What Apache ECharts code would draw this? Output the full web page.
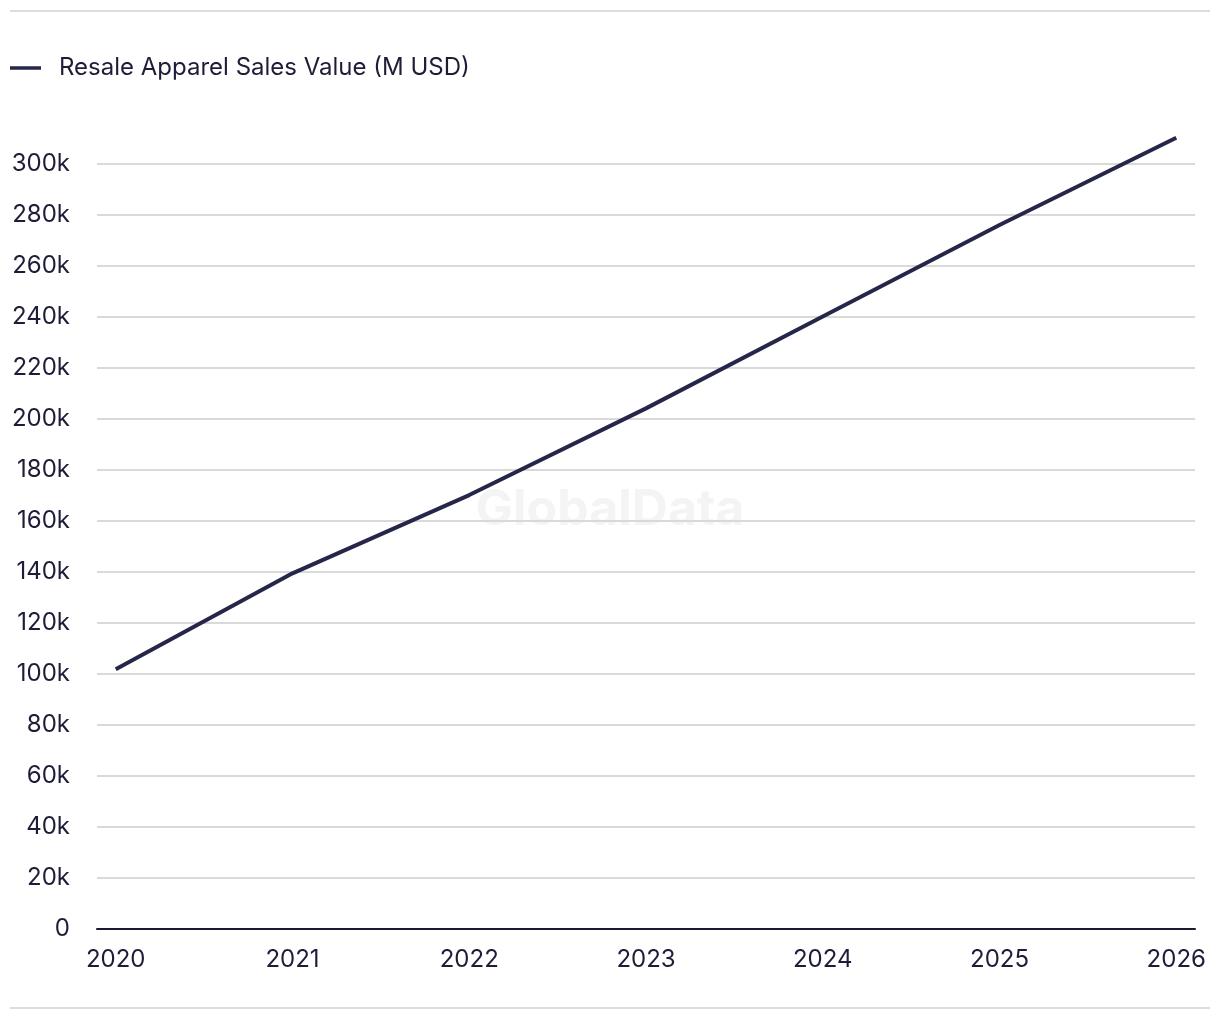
<!DOCTYPE html>
<html><head><meta charset="utf-8">
<script src="https://cdn.jsdelivr.net/npm/echarts@6/dist/echarts.min.js"></script>
<style>html,body{margin:0;padding:0;background:#fff}#c{width:1220px;height:1020px}</style>
</head><body><div id="c"></div>
<script>
const years = [2020, 2021, 2022, 2023, 2024, 2025, 2026];
const salesValues = [101600, 139200, 169900, 203900, 239900, 275800, 310000];
const seriesName = 'Resale Apparel Sales Value (M USD)';

const FONT = 'Inter, "Noto Sans", sans-serif';
const TEXT = '#1e1d38';
const chart = echarts.init(document.getElementById('c'));
chart.setOption({
  backgroundColor: '#fff',
  animation: false,
  textStyle: { fontFamily: FONT },
  graphic: [
    { type: 'rect', shape: { x: 10, y: 10, width: 1200, height: 2 }, style: { fill: '#dddddd' } },
    { type: 'rect', shape: { x: 10, y: 1007, width: 1200, height: 2 }, style: { fill: '#dddddd' } },
    { type: 'text', left: 'center', top: 485, z: 0, style: { text: 'GlobalData', font: 'bold 50px ' + FONT, fill: '#f4f4f4' } }
  ],
  legend: {
    left: 10, top: 56, padding: 0,
    icon: 'rect', itemWidth: 31, itemHeight: 3.5, itemGap: 20,
    textStyle: { fontSize: 24, color: TEXT, padding: [0, 0, 0, 13], fontFamily: FONT },
    data: [seriesName]
  },
  grid: { left: 97, right: 25, top: 163.3, bottom: 1020 - 928.3, containLabel: false },
  xAxis: {
    type: 'value',
    min: 2019.894, max: 2026.106,
    axisLine: { show: true, lineStyle: { color: '#1c1a33', width: 2 } },
    axisTick: { show: false },
    splitLine: { show: false },
    axisLabel: { customValues: years, margin: 19, fontSize: 24, color: TEXT, formatter: v => String(Math.round(v)) }
  },
  yAxis: {
    type: 'value', min: 0, max: 300000, interval: 20000,
    axisLine: { show: false }, axisTick: { show: false },
    splitLine: { lineStyle: { color: '#d9d9d9', width: 2 } },
    axisLabel: { margin: 27, fontSize: 24, color: TEXT, formatter: v => v === 0 ? '0' : (v / 1000) + 'k' }
  },
  series: [{
    name: seriesName, type: 'line', clip: false, showSymbol: false, symbol: 'none',
    data: years.map((y, i) => [y, salesValues[i]]),
    lineStyle: { color: '#26254a', width: 4 },
    itemStyle: { color: '#26254a' },
    z: 5
  }]
});
</script></body></html>
